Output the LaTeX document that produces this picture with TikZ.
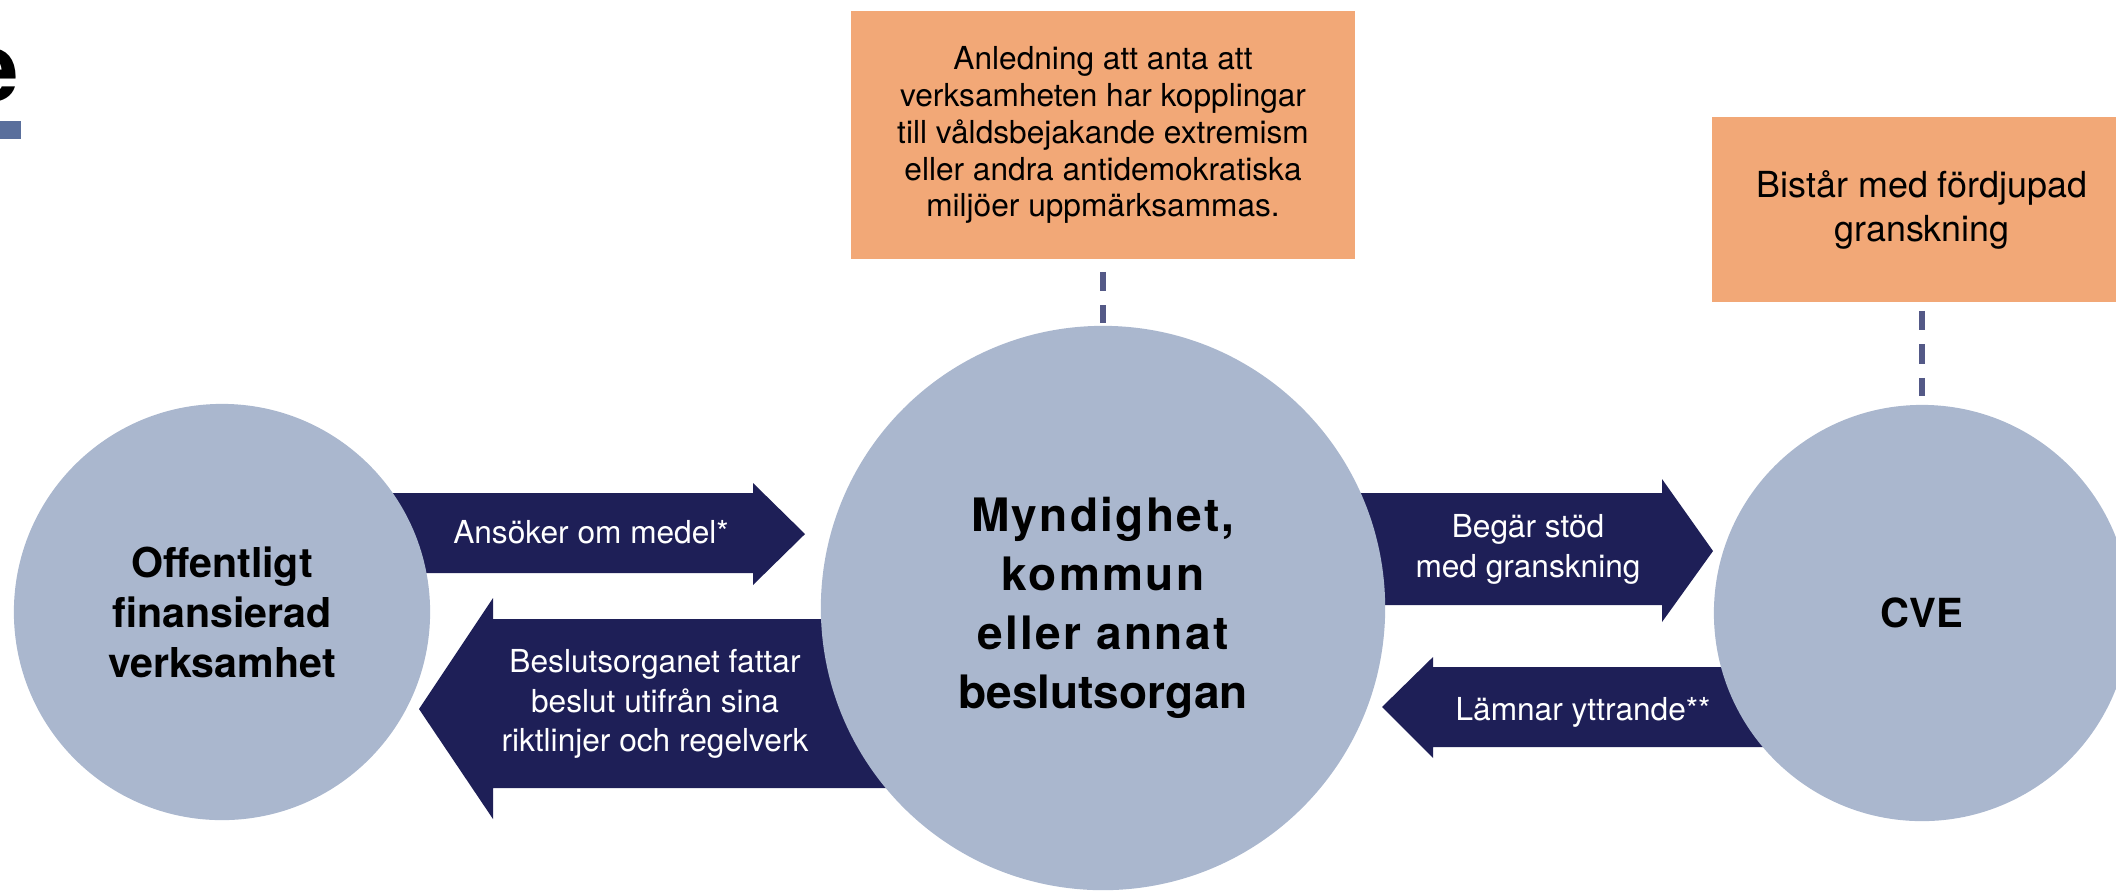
\documentclass[tikz,border=0pt]{standalone}
\usepackage{fontspec}
\setmainfont{TeX Gyre Heros}
\definecolor{circfill}{HTML}{AAB7CE}
\definecolor{navy}{HTML}{1E1F57}
\definecolor{peach}{HTML}{F2A877}
\definecolor{dashblue}{HTML}{545987}
\definecolor{barblue}{HTML}{5A6F9C}
\newcommand{\widen}[1]{{\addfontfeature{LetterSpace=5}#1}}
\begin{document}
\begin{tikzpicture}[x=0.01cm, y=-0.01cm, every node/.style={inner sep=0pt,align=center},
  circ/.style={circle,fill=circfill},
  note/.style={fill=peach},
  flow/.style={fill=navy},
  lbl/.style={text=white,font=\fontsize{9}{11.2}\selectfont},
  link/.style={draw=dashblue,line width=.065cm,dash pattern=on .195cm off .14cm}]
  \useasboundingbox (0,0) rectangle (2116,890);
  \clip (0,0) rectangle (2116,890);
  % what is left of the slide title
  \node [anchor=base east,font=\fontsize{27.4}{30}\selectfont\bfseries] (title) at (20,101) {e};
  \fill [barblue] (0,121) rectangle (21,139);
  % notes
  \node [note,minimum width=5.04cm,minimum height=2.48cm,font=\fontsize{9}{10.5}\selectfont] (reason) at (1103,135) {Anledning att anta att\\verksamheten har kopplingar\\till våldsbejakande extremism\\eller andra antidemokratiska\\miljöer uppmärksammas.};
  \node [note,minimum width=4.2cm,minimum height=1.85cm,font=\fontsize{10.2}{12.5}\selectfont] (review) at (1922,209.5) {Bistår med fördjupad\\granskning};
  % block arrows, under the circles
  \fill [flow] (370,493) -- (753,493) -- (753,483) -- (805,534) -- (753,585) -- (753,573) -- (370,573) -- cycle;
  \fill [flow] (900,619) -- (493,619) -- (493,598) -- (419,709) -- (493,819) -- (493,788) -- (900,788) -- cycle;
  \fill [flow] (1350,493) -- (1662,493) -- (1662,479) -- (1713,551) -- (1662,622) -- (1662,605) -- (1350,605) -- cycle;
  \fill [flow] (1780,667) -- (1433,667) -- (1433,657) -- (1382,707) -- (1433,758) -- (1433,747) -- (1780,747) -- cycle;
  % circles
  \node [circ,minimum size=4.16cm,font=\fontsize{11.7}{14.2}\selectfont\bfseries] (org) at (222,612) {Offentligt\\finansierad\\verksamhet};
  \node [circ,minimum size=5.64cm,font=\fontsize{13.1}{16.8}\selectfont\bfseries] (agency) at (1103,608) {\widen{Myndighet,}\\\widen{kommun}\\\widen{eller annat}\\beslutsorgan};
  \node [circ,minimum size=4.16cm,font=\fontsize{11.4}{14}\selectfont\bfseries] (cve) at (1922,613) {CVE};
  \draw [link,shorten <=.12cm,shorten >=.02cm] (reason) -- (agency);
  \draw [link,shorten <=.08cm,shorten >=.08cm] (review) -- (cve);
  % arrow labels
  \node [lbl] (apply) at (591,532) {Ansöker om medel*};
  \node [lbl] (decide) at (655,704) {Beslutsorganet fattar\\beslut utifrån sina\\riktlinjer och regelverk};
  \node [lbl] (request) at (1528,549.5) {Begär stöd\\med granskning};
  \node [lbl] (statement) at (1583,712) {Lämnar yttrande**};
\end{tikzpicture}
\end{document}
